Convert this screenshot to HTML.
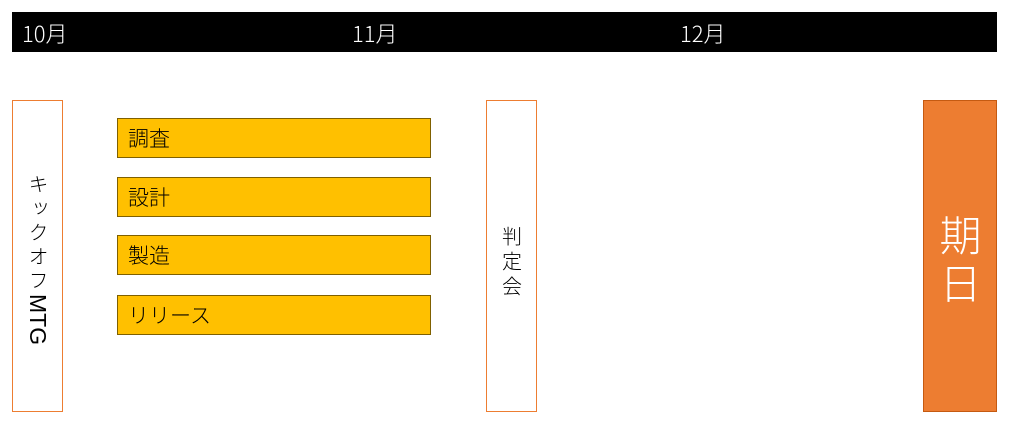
<!DOCTYPE html>
<html><head><meta charset="utf-8"><style>
body{margin:0;width:1023px;height:437px;background:#fff;position:relative;overflow:hidden;font-family:"Liberation Sans","Noto Sans CJK JP",sans-serif}
.a{position:absolute;box-sizing:border-box}
.bar{left:12px;top:12px;width:985px;height:40px;background:#000}
.m{color:#fff;font-size:22px;top:17px;font-family:"Noto Sans CJK JP",sans-serif;font-weight:300}
.v{border:1px solid #ED7D31;display:flex;align-items:center;justify-content:center}
.v span{writing-mode:vertical-rl;font-size:20px;color:#000;line-height:1;font-family:"Noto Sans CJK JP",sans-serif;font-weight:300}
.t{left:117px;width:314px;height:40px;background:#FFC000;border:1px solid #7F6000;font-size:21px;padding-left:10px;line-height:38px;color:#000;font-family:"Noto Sans CJK JP",sans-serif;font-weight:300}
</style></head><body>
<div class="a bar"></div>
<div class="a m" style="left:22px">10月</div>
<div class="a m" style="left:352px">11月</div>
<div class="a m" style="left:680px">12月</div>
<div class="a v" style="left:12px;top:100px;width:51px;height:312px"><span style="font-size:21px;padding-top:8px"><span style="letter-spacing:4px">キックオフ</span><span style="font-family:'Liberation Sans',sans-serif;font-weight:normal;font-size:23px">MTG</span></span></div>
<div class="a t" style="top:118px">調査</div>
<div class="a t" style="top:177px">設計</div>
<div class="a t" style="top:235px">製造</div>
<div class="a t" style="top:295px">リリース</div>
<div class="a v" style="left:486px;top:100px;width:51px;height:312px"><span style="letter-spacing:5px;padding-top:15px">判定会</span></div>
<div class="a v" style="left:923px;top:100px;width:74px;height:312px;background:#ED7D31;border-color:#C55A11"><span style="color:#fff;font-size:42px;letter-spacing:6px;padding-top:12px">期日</span></div>
</body></html>
